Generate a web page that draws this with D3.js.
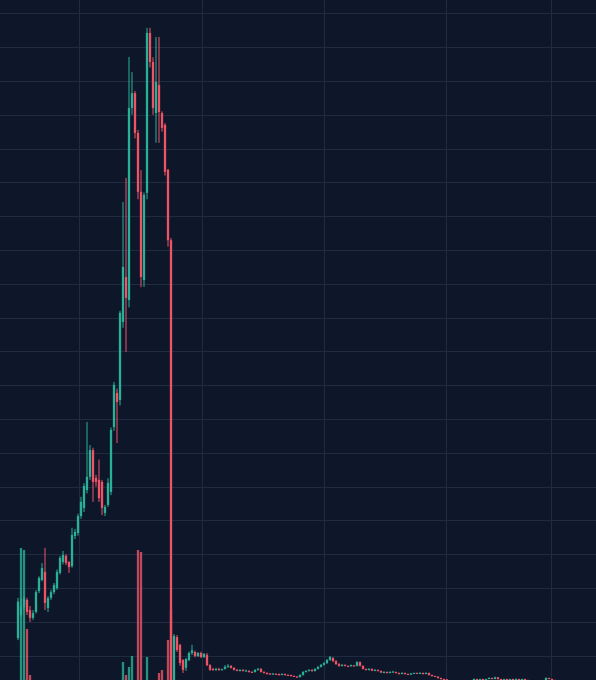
<!DOCTYPE html>
<html><head><meta charset="utf-8">
<script src="https://cdn.jsdelivr.net/npm/d3@7/dist/d3.min.js"></script>
<style>html,body{margin:0;padding:0;background:#0e1729;}svg{display:block;}</style>
</head><body>
<svg id="chart" width="596" height="680"></svg>
<script>
// ---- data (one candle per period, index order) ----
const opens = [
15.2,22.0,24.4,26.5,23.5,21.2,22.9,29.1,32.4,34.8,24.1,27.1,28.8,30.0,34.5,37.7,39.5,37.7,36.5,45.4,
46.3,51.3,53.7,59.0,62.9,70.8,62.6,62.0,61.4,52.2,54.6,58.4,77.6,87.7,85.6,108.7,122.0,115.2,172.0,176.4,
164.6,147.2,121.1,146.9,194.2,185.6,170.5,178.8,170.5,167.0,153.7,132.9,
1.0,15.5,13.2,8.7,6.4,8.7,10.8,11.1,9.9,10.8,9.6,10.2,7.2,6.1,5.8,6.1,5.8,6.1,
6.7,7.0,6.4,5.8,5.5,5.8,5.5,5.5,5.2,5.2,5.8,6.1,5.2,4.9,4.7,4.6,4.6,4.6,4.3,4.6,
4.3,4.3,4.0,3.8,3.7,4.3,5.2,5.5,5.8,5.5,6.1,6.7,7.3,7.8,8.7,9.3,8.4,7.5,7.0,7.3,
7.0,6.9,7.1,7.0,8.1,7.0,6.1,5.8,6.1,5.6,5.8,5.5,5.0,5.2,4.9,5.2,5.2,4.9,4.6,4.9,
4.6,4.4,4.7,4.9,4.7,4.9,4.6,4.9,4.3,4.0,3.8,3.4,3.1,3.0,2.5,1.9,1.6,1.4,1.5,1.2,
1.4,1.7,2.1,3.1,2.8,3.1,2.8,3.1,3.4,3.1,3.6,3.1,2.8,3.1,2.8,3.1,3.0,3.1,2.8,3.1,
2.8,2.7,2.2,1.9,2.0,1.7,2.2,3.4,3.1,2.8
];
const highs = [
27.1,27.0,27.7,27.1,24.7,23.5,29.4,33.5,37.4,41.9,27.6,29.5,31.5,35.5,39.5,41.0,40.0,38.0,47.8,47.5,
52.0,57.0,61.0,79.1,72.3,71.5,63.5,68.0,62.0,54.6,62.5,77.5,91.0,89.0,112.0,144.2,151.3,187.1,182.6,177.0,
165.5,153.6,147.0,195.7,195.7,187.0,193.0,193.0,171.0,167.5,154.0,133.5,
16.4,16.1,13.5,9.0,9.3,11.2,13.2,11.5,11.1,11.2,10.8,10.8,7.5,6.4,6.4,6.4,6.2,7.2,
7.5,7.2,6.6,6.1,6.0,6.0,5.9,5.7,5.4,6.0,6.4,6.3,5.4,5.1,4.9,4.9,4.8,4.7,4.8,4.7,
4.5,4.4,4.2,4.0,4.5,5.4,5.7,6.0,6.0,6.3,6.9,7.5,8.1,9.0,9.9,9.6,8.7,7.8,7.5,7.4,
7.1,7.4,7.3,8.4,8.3,7.1,6.2,6.3,6.2,6.0,5.9,5.6,5.4,5.3,5.4,5.5,5.3,5.0,5.1,5.0,
4.7,4.9,5.0,5.0,5.1,5.0,5.1,5.0,4.4,4.1,3.9,3.5,3.2,3.1,2.6,2.1,1.9,1.8,1.7,1.6,
1.9,2.3,3.3,3.2,3.2,3.2,3.2,3.6,3.5,3.8,3.7,3.2,3.2,3.2,3.2,3.2,3.3,3.2,3.2,3.2,
2.9,2.8,2.3,2.2,2.1,2.4,3.6,3.5,3.2,2.9
];
const lows = [
14.6,21.4,23.5,22.0,20.0,20.6,22.5,28.5,32.0,23.5,22.9,26.5,28.2,29.5,34.0,37.0,36.8,34.5,36.0,44.5,
45.5,50.5,52.5,58.0,62.0,55.5,60.0,55.5,51.6,51.3,54.0,57.5,76.5,72.9,84.0,107.0,99.8,113.0,170.0,163.0,
145.0,119.0,119.1,145.0,184.0,170.0,161.7,161.7,165.0,152.0,131.0,0.5,
0.4,11.1,7.0,4.9,5.5,8.4,10.2,9.5,9.6,9.3,9.3,6.9,5.5,5.5,5.5,5.5,5.6,5.9,
6.4,6.2,5.6,5.4,5.3,5.3,5.3,5.0,4.9,5.0,5.6,5.0,4.7,4.4,4.4,4.4,4.3,4.1,4.2,4.1,
4.0,3.8,3.7,3.5,3.5,4.1,5.0,5.3,5.2,5.3,5.9,6.5,7.1,7.6,8.5,8.1,7.3,6.7,6.8,6.8,
6.6,6.7,6.8,6.8,6.8,5.9,5.6,5.6,5.4,5.4,5.3,4.9,4.8,4.7,4.8,5.0,4.7,4.4,4.5,4.4,
4.3,4.3,4.6,4.6,4.6,4.4,4.5,4.1,3.8,3.7,3.2,2.9,2.8,2.3,1.7,1.4,1.2,1.1,1.0,1.0,
1.2,1.5,2.0,2.6,2.7,2.6,2.7,3.0,3.0,3.0,2.9,2.6,2.7,2.6,2.7,2.8,2.9,2.6,2.7,2.6,
2.5,2.1,1.7,1.6,1.5,1.6,2.1,3.0,2.7,2.0
];
const closes = [
26.0,24.5,26.8,22.9,21.2,22.6,28.8,33.0,35.9,25.6,27.1,28.8,30.9,34.8,38.9,39.8,37.4,36.2,45.7,46.6,
51.3,55.5,60.2,62.9,70.8,61.4,61.4,56.6,53.7,54.0,61.1,76.8,90.1,85.0,111.4,125.0,115.8,172.0,176.4,164.6,
147.2,122.0,146.3,194.2,185.6,172.0,179.7,170.8,166.1,153.1,132.9,1.5,
15.8,11.7,7.8,5.8,9.0,10.8,11.6,9.9,10.8,9.6,10.5,7.2,5.8,5.8,6.1,5.8,6.0,6.7,
7.0,6.4,5.8,5.6,5.8,5.5,5.6,5.2,5.0,5.8,6.1,5.2,4.9,4.6,4.6,4.7,4.4,4.3,4.6,4.3,
4.1,4.0,3.8,3.7,4.3,5.2,5.5,5.8,5.5,6.1,6.7,7.3,7.8,8.7,9.6,8.4,7.5,7.0,7.3,7.0,
6.8,7.2,7.0,8.1,7.0,6.1,5.8,6.1,5.6,5.8,5.5,5.0,5.2,4.9,5.2,5.3,4.9,4.6,4.9,4.6,
4.4,4.7,4.9,4.7,4.9,4.6,4.9,4.3,4.0,3.8,3.4,3.1,3.0,2.5,1.9,1.6,1.4,1.5,1.2,1.4,
1.7,2.1,3.1,2.8,3.1,2.8,3.1,3.4,3.1,3.6,3.1,2.8,3.1,2.8,3.1,3.0,3.1,2.8,3.1,2.8,
2.7,2.2,1.9,2.0,1.7,2.2,3.4,3.1,2.8,2.2
];
const volumes = [
5,76,75,35.5,12.5,6,5,7,6,8,5,4,6,5,7,6,4,5,8,6,
7,6,8,9,7,8,5,6,7,5,6,8,9,7,8,19,12.5,16.5,22,9,
75,74,8,21.5,9,8,7,13.5,15,9,30,45,
9,8,7,6,5,6,5,4,5,4,5,6,5,4,3,4,3,4,
5,4,3,4,3,4,3,4,3,4,5,4,3,4,3,3,4,3,3,4,
3,3,4,3,4,5,4,5,4,5,6,5,6,7,8,6,5,4,5,4,
3,4,3,5,4,5,4,3,4,3,3,4,3,4,3,3,4,3,4,3,
3,4,3,3,4,3,4,3,4,3,4,3,3,4,5,4,3,4,3,4,
3,4,5,4,3,4,3,4,3,4,3,4,3,4,3,3,4,3,4,3,
3,4,4,3,4,3,5,4,3,4
];
const priceTicks = [10,20,30,40,50,60,70,80,90,100,110,120,130,140,150,160,170,180,190,200];
const timeGridIndex = [20.33, 61.17, 102, 142.83, 177.83];

// ---- drawing ----
const W = 596, H = 680;
const upColor = "#29b197", downColor = "#ef5466";
const svg = d3.select("#chart");
svg.append("rect").attr("width", W).attr("height", H).attr("fill", "#0e1729");

const idx = d3.range(closes.length);
const x = d3.scaleLinear().domain([0, closes.length - 1]).range([18, 555]);
const y = d3.scaleLinear().domain([0, 200]).range([689.5, 13.3]);
const yv = d3.scaleLinear().domain([0, 100]).range([700, 500]);

const grid = svg.append("g").attr("stroke", "#1f2b41").attr("stroke-width", 1);
grid.selectAll("line.h").data(priceTicks).join("line").attr("class", "h")
  .attr("x1", 0).attr("x2", W)
  .attr("y1", d => Math.round(y(d)) + 0.5).attr("y2", d => Math.round(y(d)) + 0.5);
grid.selectAll("line.v").data(timeGridIndex).join("line").attr("class", "v")
  .attr("y1", 0).attr("y2", H)
  .attr("x1", d => Math.round(x(d)) + 0.5).attr("x2", d => Math.round(x(d)) + 0.5);

const bw = 2.3;
const col = i => closes[i] >= opens[i] ? upColor : downColor;

// volume
svg.append("g").selectAll("rect").data(idx).join("rect")
  .attr("x", i => x(i) - bw / 2).attr("width", bw)
  .attr("y", i => yv(volumes[i])).attr("height", i => yv(0) - yv(volumes[i]))
  .attr("fill", col).attr("opacity", 0.8);

// wicks
svg.append("g").selectAll("line").data(idx).join("line")
  .attr("x1", i => x(i)).attr("x2", i => x(i))
  .attr("y1", i => y(highs[i])).attr("y2", i => y(lows[i]))
  .attr("stroke", col).attr("stroke-width", 1);

// bodies
svg.append("g").selectAll("rect").data(idx).join("rect")
  .attr("x", i => x(i) - bw / 2).attr("width", bw)
  .attr("y", i => y(Math.max(opens[i], closes[i])))
  .attr("height", i => Math.max(1, Math.abs(y(opens[i]) - y(closes[i]))))
  .attr("fill", col);
</script>
</body></html>
